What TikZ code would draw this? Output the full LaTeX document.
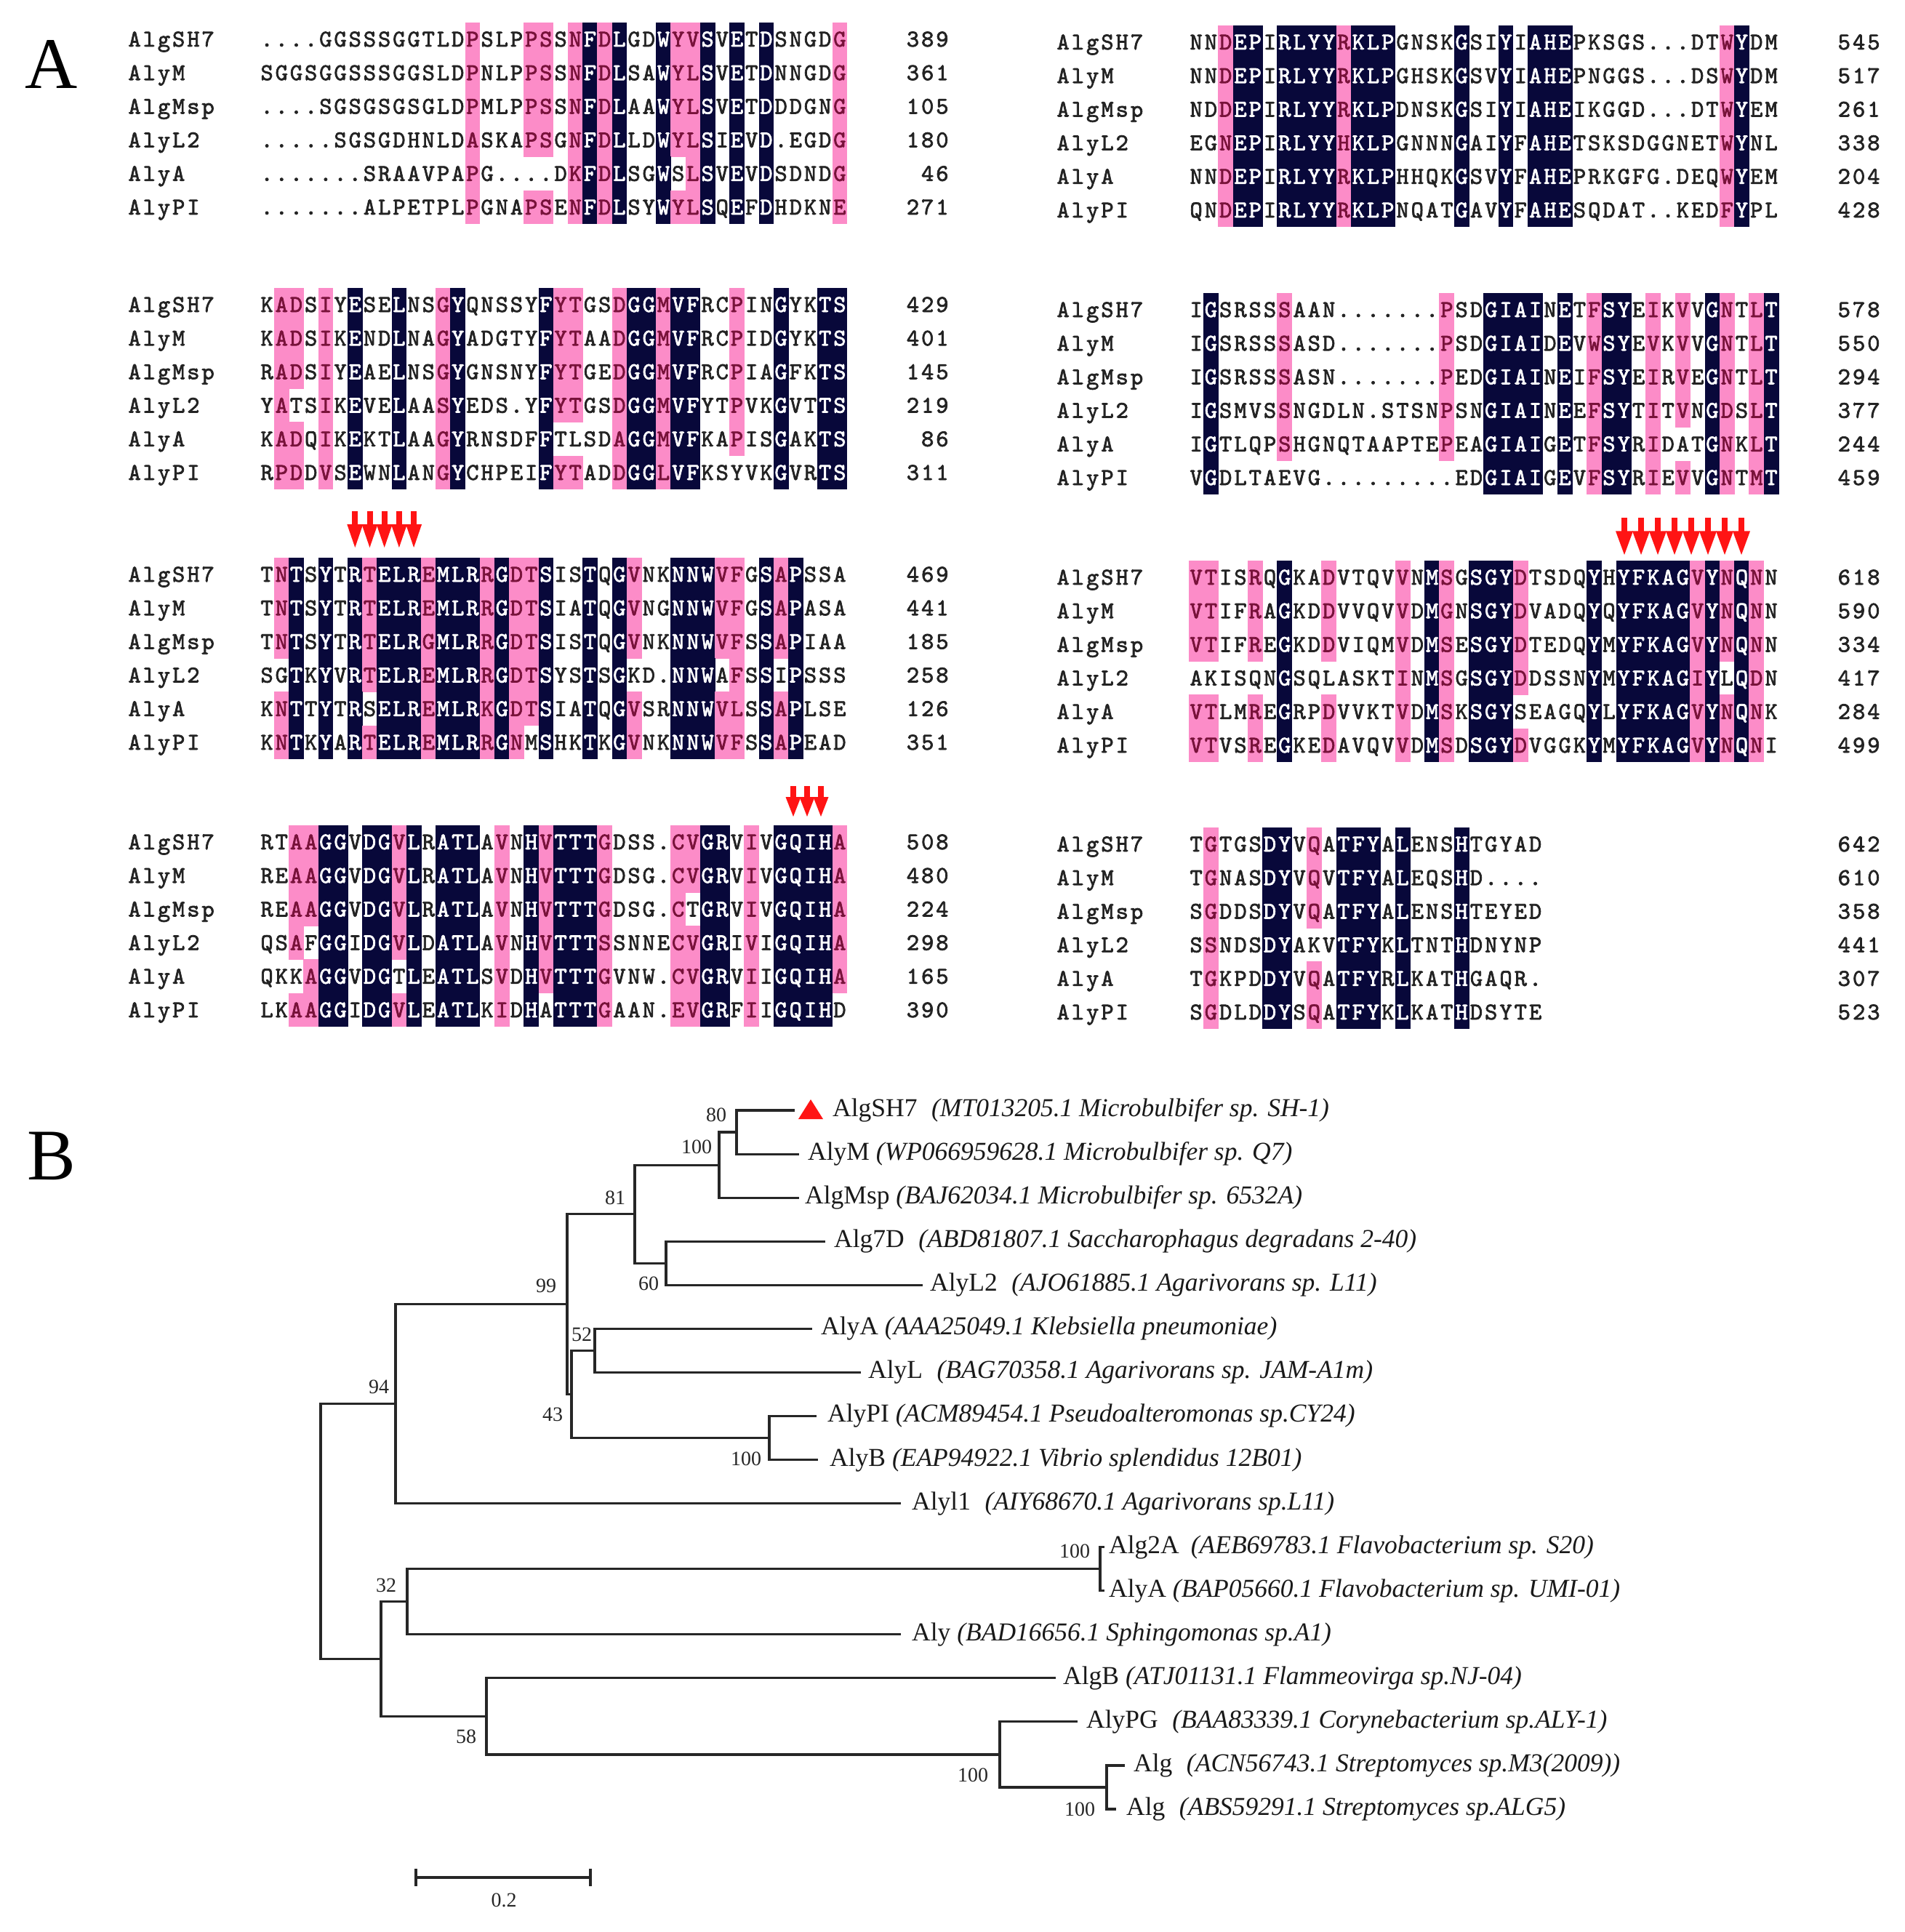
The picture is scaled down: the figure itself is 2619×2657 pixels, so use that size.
\documentclass[tikz,border=0pt]{standalone}
\usepackage{fontspec}
\setmainfont{Liberation Serif}
\newfontfamily\seqfam{lmmono10-regular.otf}[FakeBold=2.2]
\definecolor{alnavy}{RGB}{8,8,58}
\definecolor{alpink}{RGB}{252,140,200}
\definecolor{alpinktxt}{RGB}{120,18,58}
\definecolor{aldark}{RGB}{35,35,35}
\definecolor{alred}{RGB}{255,20,20}
\newcommand\seqfont{\seqfam\fontsize{33}{38}\selectfont}
\tikzset{
  seqtxt/.style={font=\seqfont, inner sep=0pt, anchor=base},
  br/.style={line width=3.2pt, draw=black!85},
  lf/.style={font=\fontsize{35.5}{40}\selectfont, anchor=west, inner sep=0pt, text=black!90},
  bs/.style={font=\fontsize{28}{32}\selectfont, inner sep=0pt, text=black!85},
  panel/.style={font=\fontsize{100}{110}\selectfont, inner sep=0pt}
}
\makeatletter
\newcount\sq@n
\def\qqcw{20.2}
\def\qqbl{10}
\def\qqch{46.2}
\def\seqrow#1#2#3#4{\def\sq@x{#1}\def\sq@y{#2}\sq@n=0\relax\sq@loop#3\@nil#4\@nil}
\def\sq@loop#1#2\@nil#3#4\@nil{%
  \sq@cell{#1}{#3}%
  \advance\sq@n by 1\relax
  \def\sq@rest{#2}%
  \ifx\sq@rest\@empty\expandafter\@gobble\else\expandafter\@firstofone\fi
  {\sq@loop#2\@nil#4\@nil}}
\def\sq@cell#1#2{%
  \if b#2%
    \fill[alnavy] (\sq@x+\the\sq@n*\qqcw-0.3,\sq@y-\qqch/2-0.3) rectangle ++(\qqcw+0.6,\qqch+0.6);
    \node[seqtxt,text=white] at (\sq@x+\the\sq@n*\qqcw+\qqcw/2,\sq@y+\qqbl) {#1};
  \else\if p#2%
    \fill[alpink] (\sq@x+\the\sq@n*\qqcw-0.3,\sq@y-\qqch/2-0.3) rectangle ++(\qqcw+0.6,\qqch+0.6);
    \node[seqtxt,text=alpinktxt] at (\sq@x+\the\sq@n*\qqcw+\qqcw/2,\sq@y+\qqbl) {#1};
  \else
    \node[seqtxt,text=aldark] at (\sq@x+\the\sq@n*\qqcw+\qqcw/2,\sq@y+\qqbl) {#1};
  \fi\fi}
\def\plainrow#1#2#3{\def\sq@x{#1}\def\sq@y{#2}\sq@n=0\relax\pl@loop#3\@nil}
\def\pl@loop#1#2\@nil{%
  \if *#1\else
    \node[seqtxt,text=aldark] at (\sq@x+\the\sq@n*\qqcw+\qqcw/2,\sq@y+\qqbl) {#1};
  \fi
  \advance\sq@n by 1\relax
  \def\sq@rest{#2}%
  \ifx\sq@rest\@empty\expandafter\@gobble\else\expandafter\@firstofone\fi
  {\pl@loop#2\@nil}}
\makeatother
\newcommand\alnrow[6]{%
  \if L#1\def\qqcw{20.2}\def\qqnx{175}\def\qqsx{357}\def\qqmx{1306}%
  \else\def\qqcw{20.28}\def\qqnx{1452}\def\qqsx{1635}\def\qqmx{2587}\fi
  \plainrow{\qqnx}{#2}{#3}%
  \seqrow{\qqsx}{#2}{#4}{#5 ------}%
  \plainrow{\qqmx-3*\qqcw}{#2}{#6}}
\newcommand\dnarrow[4]{%
  \fill[alred] ({#1-4},{#2}) rectangle ({#1+4},{#2+0.42*(#3-#2)});
  \fill[alred] ({#1-#4},{#2+0.36*(#3-#2)}) -- ({#1+#4},{#2+0.36*(#3-#2)}) -- ({#1},{#3}) -- cycle;}
\begin{document}
\begin{tikzpicture}[x=1pt,y=-1pt]
\fill[white] (0,0) rectangle (2619,2657);
\useasboundingbox (0,0) rectangle (2619,2657);

\node[panel] (labA) at (71,88) {A};
\node[panel] (labB) at (71,1590) {B};

% ---------- block L1
\alnrow{L}{54}{AlgSH7}{....GGSSSGGTLDPSLPPSSNFDLGDWYVSVETDSNGDG}{---------- ----p---pp -pbpb--bpp b-b-b----p}{389}
\alnrow{L}{100.2}{AlyM}{SGGSGGSSSGGSLDPNLPPSSNFDLSAWYLSVETDNNGDG}{---------- ----p---pp -pbpb--bpp b-b-b----p}{361}
\alnrow{L}{146.4}{AlgMsp}{....SGSGSGSGLDPMLPPSSNFDLAAWYLSVETDDDGNG}{---------- ----p---pp -pbpb--bpp b-b-b----p}{105}
\alnrow{L}{192.6}{AlyL2}{.....SGSGDHNLDASKAPSGNFDLLDWYLSIEVD.EGDG}{---------- ----p---pp -pbpb--bpp b-b-b----p}{180}
\alnrow{L}{238.8}{AlyA}{.......SRAAVPAPG....DKFDLSGWSLSVEVDSDNDG}{---------- ----p----- -pbpb--b-p b-b-b----p}{*46}
\alnrow{L}{285}{AlyPI}{.......ALPETPLPGNAPSENFDLSYWYLSQEFDHDKNE}{---------- ----p---pp -pbpb--bpp b-b-b----p}{271}

% ---------- block R1
\alnrow{R}{58}{AlgSH7}{NNDEPIRLYYRKLPGNSKGSIYIAHEPKSGS...DTWYDM}{--pbb-bbbb pbbb----b- -b-bbb---- ------pb--}{545}
\alnrow{R}{104.2}{AlyM}{NNDEPIRLYYRKLPGHSKGSVYIAHEPNGGS...DSWYDM}{--pbb-bbbb pbbb----b- -b-bbb---- ------pb--}{517}
\alnrow{R}{150.4}{AlgMsp}{NDDEPIRLYYRKLPDNSKGSIYIAHEIKGGD...DTWYEM}{--pbb-bbbb pbbb----b- -b-bbb---- ------pb--}{261}
\alnrow{R}{196.6}{AlyL2}{EGNEPIRLYYHKLPGNNNGAIYFAHETSKSDGGNETWYNL}{--pbb-bbbb pbbb----b- -b-bbb---- ------pb--}{338}
\alnrow{R}{242.8}{AlyA}{NNDEPIRLYYRKLPHHQKGSVYFAHEPRKGFG.DEQWYEM}{--pbb-bbbb pbbb----b- -b-bbb---- ------pb--}{204}
\alnrow{R}{289}{AlyPI}{QNDEPIRLYYRKLPNQATGAVYFAHESQDAT..KEDFYPL}{--pbb-bbbb pbbb----b- -b-bbb---- ------pb--}{428}

% ---------- block L2
\alnrow{L}{419}{AlgSH7}{KADSIYESELNSGYQNSSYFYTGSDGGMVFRCPINGYKTS}{-pp-p-b--b --pb-----b pp--pbbpbb --p--b--bb}{429}
\alnrow{L}{465.2}{AlyM}{KADSIKENDLNAGYADGTYFYTAADGGMVFRCPIDGYKTS}{-pp-p-b--b --pb-----b pp--pbbpbb --p--b--bb}{401}
\alnrow{L}{511.4}{AlgMsp}{RADSIYEAELNSGYGNSNYFYTGEDGGMVFRCPIAGFKTS}{-pp-p-b--b --pb-----b pp--pbbpbb --p--b--bb}{145}
\alnrow{L}{557.6}{AlyL2}{YATSIKEVELAASYEDS.YFYTGSDGGMVFYTPVKGVTTS}{-p--p-b--b --pb-----b pp--pbbpbb --p--b--bb}{219}
\alnrow{L}{603.8}{AlyA}{KADQIKEKTLAAGYRNSDFFTLSDAGGMVFKAPISGAKTS}{-pp-p-b--b --pb-----b ----pbbpbb --p--b--bb}{*86}
\alnrow{L}{650}{AlyPI}{RPDDVSEWNLANGYCHPEIFYTADDGGLVFKSYVKGVRTS}{-pp-p-b--b --pb-----b pp--pbbpbb -----b--bb}{311}

% ---------- block R2
\alnrow{R}{426}{AlgSH7}{IGSRSSSAAN.......PSDGIAINETFSYEIKVVGNTLT}{-b----p--- -------p-- bbbb-b-pbb -p-p-bp-pb}{578}
\alnrow{R}{472.2}{AlyM}{IGSRSSSASD.......PSDGIAIDEVWSYEVKVVGNTLT}{-b----p--- -------p-- bbbb-b-pbb -p-p-bp-pb}{550}
\alnrow{R}{518.4}{AlgMsp}{IGSRSSSASN.......PEDGIAINEIFSYEIRVEGNTLT}{-b----p--- -------p-- bbbb-b-pbb -p-p-bp-pb}{294}
\alnrow{R}{564.6}{AlyL2}{IGSMVSSNGDLN.STSNPSNGIAINEEFSYTITVNGDSLT}{-b----p--- -------p-- bbbb-b-pbb -p-p-bp-pb}{377}
\alnrow{R}{610.8}{AlyA}{IGTLQPSHGNQTAAPTEPEAGIAIGETFSYRIDATGNKLT}{-b----p--- -------p-- bbbb-b-pbb -p---bp-pb}{244}
\alnrow{R}{657}{AlyPI}{VGDLTAEVG.........EDGIAIGEVFSYRIEVVGNTMT}{-b-------- ---------- bbbb-b-pbb -p-p-bp-pb}{459}

% ---------- block L3
\alnrow{L}{790}{AlgSH7}{TNTSYTRTELREMLRRGDTSISTQGVNKNNWVFGSAPSSA}{-pb-b-bpbb bpbbbpbppb --b-bp--bb bpp-bpb---}{469}
\alnrow{L}{836.2}{AlyM}{TNTSYTRTELREMLRRGDTSIATQGVNGNNWVFGSAPASA}{-pb-b-bpbb bpbbbpbppb --b-bp--bb bpp-bpb---}{441}
\alnrow{L}{882.4}{AlgMsp}{TNTSYTRTELRGMLRRGDTSISTQGVNKNNWVFSSAPIAA}{-pb-b-bpbb bpbbbpbppb --b-bp--bb bpp-bpb---}{185}
\alnrow{L}{928.6}{AlyL2}{SGTKYVRTELREMLRRGDTSYSTSGKD.NNWAFSSIPSSS}{--b-b-bpbb bpbbbpbppb --b-b---bb b-p-b-b---}{258}
\alnrow{L}{974.8}{AlyA}{KNTTYTRSELREMLRKGDTSIATQGVSRNNWVLSSAPLSE}{-pb-b-b-bb bpbbbpbppb --b-bp--bb bpp-bpb---}{126}
\alnrow{L}{1021}{AlyPI}{KNTKYARTELREMLRRGNMSHKTKGVNKNNWVFSSAPEAD}{-pb-b-bpbb bpbbbpbp-b --b-bp--bb bpp-bpb---}{351}

% ---------- block R3
\alnrow{R}{794}{AlgSH7}{VTISRQGKADVTQVVNMSGSGYDTSDQYHYFKAGVYNQNN}{pp--p-b--p ----p-bp-b bbp----b-b bbbbpbpbp-}{618}
\alnrow{R}{840.2}{AlyM}{VTIFRAGKDDVVQVVDMGNSGYDVADQYQYFKAGVYNQNN}{pp--p-b--p ----p-bp-b bbp----b-b bbbbpbpbp-}{590}
\alnrow{R}{886.4}{AlgMsp}{VTIFREGKDDVIQMVDMSESGYDTEDQYMYFKAGVYNQNN}{pp--p-b--p ----p-bp-b bbp----b-b bbbbpbpbp-}{334}
\alnrow{R}{932.6}{AlyL2}{AKISQNGSQLASKTINMSGSGYDDSSNYMYFKAGIYLQDN}{------b--- ----p-bp-b bbp----b-b bbbbpb-bp-}{417}
\alnrow{R}{978.8}{AlyA}{VTLMREGRPDVVKTVDMSKSGYSEAGQYLYFKAGVYNQNK}{pp--p-b--p ----p-bp-b bb-----b-b bbbbpbpbp-}{284}
\alnrow{R}{1025}{AlyPI}{VTVSREGKEDAVQVVDMSDSGYDVGGKYMYFKAGVYNQNI}{pp--p-b--p ----p-bp-b bbp----b-b bbbbpbpbp-}{499}

% ---------- block L4
\alnrow{L}{1158}{AlgSH7}{RTAAGGVDGVLRATLAVNHVTTTGDSS.CVGRVIVGQIHA}{--ppbb-bbp b-bbb-p-bp bbbp----pp bb-p-bbbbp}{508}
\alnrow{L}{1204.2}{AlyM}{REAAGGVDGVLRATLAVNHVTTTGDSG.CVGRVIVGQIHA}{--ppbb-bbp b-bbb-p-bp bbbp----pp bb-p-bbbbp}{480}
\alnrow{L}{1250.4}{AlgMsp}{REAAGGVDGVLRATLAVNHVTTTGDSG.CTGRVIVGQIHA}{--ppbb-bbp b-bbb-p-bp bbbp----p- bb-p-bbbbp}{224}
\alnrow{L}{1296.6}{AlyL2}{QSAFGGIDGVLDATLAVNHVTTTSSNNECVGRIVIGQIHA}{--p-bb-bbp b-bbb-p-bp bbbp----pp bb-p-bbbbp}{298}
\alnrow{L}{1342.8}{AlyA}{QKKAGGVDGTLEATLSVDHVTTTGVNW.CVGRVIIGQIHA}{---pbb-bb- b-bbb-p-bp bbbp----pp bb-p-bbbbp}{165}
\alnrow{L}{1389}{AlyPI}{LKAAGGIDGVLEATLKIDHATTTGAAN.EVGRFIIGQIHD}{--ppbb-bbp b-bbb-p-b- bbbp----pp bb-p-bbbb-}{390}

% ---------- block R4
\alnrow{R}{1161}{AlgSH7}{TGTGSDYVQATFYALENSHTGYAD}{-p---bb-p- bbb-b---b- ----}{642}
\alnrow{R}{1207.2}{AlyM}{TGNASDYVQVTFYALEQSHD....}{-p---bb-p- bbb-b---b- ----}{610}
\alnrow{R}{1253.4}{AlgMsp}{SGDDSDYVQATFYALENSHTEYED}{-p---bb-p- bbb-b---b- ----}{358}
\alnrow{R}{1299.6}{AlyL2}{SSNDSDYAKVTFYKLTNTHDNYNP}{-p---bb--- bbb-b---b- ----}{441}
\alnrow{R}{1345.8}{AlyA}{TGKPDDYVQATFYRLKATHGAQR.}{-p---bb-p- bbb-b---b- ----}{307}
\alnrow{R}{1392}{AlyPI}{SGDLDDYSQATFYKLKATHDSYTE}{-p---bb-p- bbb-b---b- ----}{523}

% ---------- red arrows
\foreach \cx in {488.3,508.5,528.7,548.9,569.1} {\dnarrow{\cx}{703}{753}{11}}
\foreach \cx in {2234,2257,2280,2303,2326,2349,2372,2395} {\dnarrow{\cx}{712}{763}{12}}
\foreach \cx in {1091,1110,1129} {\dnarrow{\cx}{1081}{1123}{10.5}}

% ---------- tree: leaf ends
\coordinate (e1) at (1093,1527);
\coordinate (e2) at (1099,1587.1);
\coordinate (e3) at (1099,1647.1);
\coordinate (e4) at (1135,1707.2);
\coordinate (e5) at (1269,1767.2);
\coordinate (e6) at (1117,1827.3);
\coordinate (e7) at (1184,1887.4);
\coordinate (e8) at (1123,1947.4);
\coordinate (e9) at (1125,2007.5);
\coordinate (e10) at (1239,2067.5);
\coordinate (e11) at (1519,2127.6);
\coordinate (e12) at (1519,2187.7);
\coordinate (e13) at (1239,2247.7);
\coordinate (e14) at (1452,2307.8);
\coordinate (e15) at (1482,2367.8);
\coordinate (e16) at (1547,2427.9);
\coordinate (e17) at (1535,2488);
% internal nodes
\coordinate (n1) at (1013,1557.05);
\coordinate (n2) at (989,1602.1);
\coordinate (n3) at (916,1737.2);
\coordinate (n4) at (873,1669.6);
\coordinate (n5) at (818,1857.35);
\coordinate (n6) at (1058,1977.45);
\coordinate (n7) at (786,1917.4);
\coordinate (n8) at (780,1793.5);
\coordinate (n9) at (544,1930.5);
\coordinate (n10) at (1513,2157.65);
\coordinate (n11) at (560,2202.7);
\coordinate (n13) at (1522,2457.95);
\coordinate (n14) at (1375,2412.9);
\coordinate (n15) at (669,2360.35);
\coordinate (n16) at (524,2281.5);
\coordinate (root) at (441,2106);

\draw[br] (n1) |- (e1); \draw[br] (n1) |- (e2);
\draw[br] (n2) |- (n1); \draw[br] (n2) |- (e3);
\draw[br] (n3) |- (e4); \draw[br] (n3) |- (e5);
\draw[br] (n4) |- (n2); \draw[br] (n4) |- (n3);
\draw[br] (n5) |- (e6); \draw[br] (n5) |- (e7);
\draw[br] (n6) |- (e8); \draw[br] (n6) |- (e9);
\draw[br] (n7) |- (n5); \draw[br] (n7) |- (n6);
\draw[br] (n8) |- (n4); \draw[br] (n8) |- (n7);
\draw[br] (n9) |- (n8); \draw[br] (n9) |- (e10);
\draw[br] (n10) |- (e11); \draw[br] (n10) |- (e12);
\draw[br] (n11) |- (n10); \draw[br] (n11) |- (e13);
\draw[br] (n13) |- (e16); \draw[br] (n13) |- (e17);
\draw[br] (n14) |- (e15); \draw[br] (n14) |- (n13);
\draw[br] (n15) |- (e14); \draw[br] (n15) |- (n14);
\draw[br] (n16) |- (n11); \draw[br] (n16) |- (n15);
\draw[br] (root) |- (n9); \draw[br] (root) |- (n16);

% marker
\fill[alred] (1098,1539) -- (1132,1539) -- (1115,1512) -- cycle;

% leaf labels
\node[lf] (t1) at (1145,1527) {AlgSH7\hspace{0.55em}\textit{(MT013205.1 Microbulbifer sp. SH-1)}};
\node[lf] (t2) at (1111,1587.1) {AlyM \textit{(WP066959628.1 Microbulbifer sp. Q7)}};
\node[lf] (t3) at (1107,1647.1) {AlgMsp \textit{(BAJ62034.1 Microbulbifer sp. 6532A)}};
\node[lf] (t4) at (1147,1707.2) {Alg7D\hspace{0.55em}\textit{(ABD81807.1 Saccharophagus degradans 2-40)}};
\node[lf] (t5) at (1279,1767.2) {AlyL2\hspace{0.55em}\textit{(AJO61885.1 Agarivorans sp. L11)}};
\node[lf] (t6) at (1129,1827.3) {AlyA \textit{(AAA25049.1 Klebsiella pneumoniae)}};
\node[lf] (t7) at (1194,1887.4) {AlyL\hspace{0.55em}\textit{(BAG70358.1 Agarivorans sp. JAM-A1m)}};
\node[lf] (t8) at (1138,1947.4) {AlyPI \textit{(ACM89454.1 Pseudoalteromonas sp.CY24)}};
\node[lf] (t9) at (1141,2007.5) {AlyB \textit{(EAP94922.1 Vibrio splendidus 12B01)}};
\node[lf] (t10) at (1254,2067.5) {Alyl1\hspace{0.55em}\textit{(AIY68670.1 Agarivorans sp.L11)}};
\node[lf] (t11) at (1525,2127.6) {Alg2A\hspace{0.45em}\textit{(AEB69783.1 Flavobacterium sp. S20)}};
\node[lf] (t12) at (1525,2187.7) {AlyA \textit{(BAP05660.1 Flavobacterium sp. UMI-01)}};
\node[lf] (t13) at (1254,2247.7) {Aly \textit{(BAD16656.1 Sphingomonas sp.A1)}};
\node[lf] (t14) at (1462,2307.8) {AlgB \textit{(ATJ01131.1 Flammeovirga sp.NJ-04)}};
\node[lf] (t15) at (1494,2367.8) {AlyPG\hspace{0.55em}\textit{(BAA83339.1 Corynebacterium sp.ALY-1)}};
\node[lf] (t16) at (1559,2427.9) {Alg\hspace{0.55em}\textit{(ACN56743.1 Streptomyces sp.M3(2009))}};
\node[lf] (t17) at (1549,2488) {Alg\hspace{0.55em}\textit{(ABS59291.1 Streptomyces sp.ALG5)}};

% bootstrap values
\node[bs] (b1) at (985,1533) {80};
\node[bs] (b2) at (958,1577) {100};
\node[bs] (b3) at (846,1647) {81};
\node[bs] (b4) at (892,1765) {60};
\node[bs] (b5) at (751,1768) {99};
\node[bs] (b6) at (800,1835) {52};
\node[bs] (b7) at (760,1945) {43};
\node[bs] (b8) at (1026,2006) {100};
\node[bs] (b9) at (521,1907) {94};
\node[bs] (b10) at (1478,2133) {100};
\node[bs] (b11) at (531,2180) {32};
\node[bs] (b12) at (641,2388) {58};
\node[bs] (b13) at (1338,2441) {100};
\node[bs] (b14) at (1485,2488) {100};

% scale bar
\coordinate (sbL) at (572,2582);
\coordinate (sbR) at (812,2582);
\draw[br] (sbL) -- (sbR);
\draw[br] ([yshift=12pt]sbL) -- ([yshift=-12pt]sbL);
\draw[br] ([yshift=12pt]sbR) -- ([yshift=-12pt]sbR);
\node[bs] (sbt) at (693,2613) {0.2};
\end{tikzpicture}
\end{document}
